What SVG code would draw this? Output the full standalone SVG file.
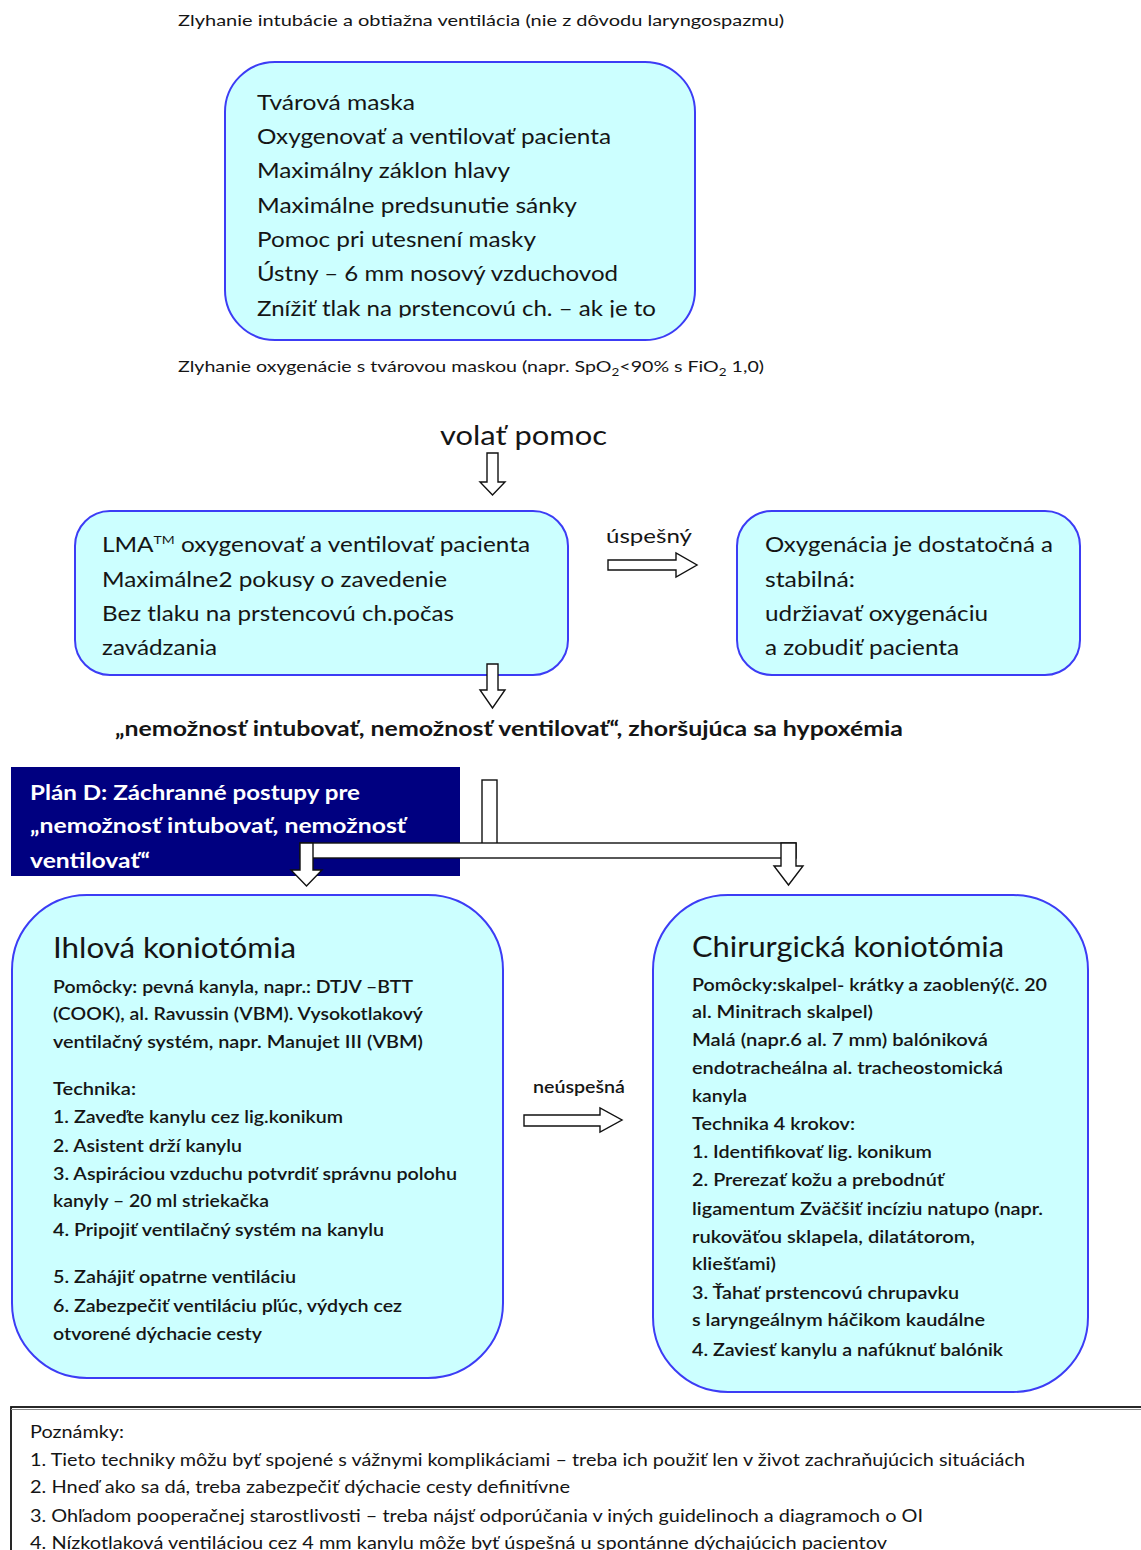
<svg xmlns="http://www.w3.org/2000/svg" width="1141" height="1550" viewBox="0 0 1141 1550">
  <style>
    text { font-family: "Lato", "Open Sans", "Liberation Sans", sans-serif; fill: #151515; }
    .box { fill: #ccffff; stroke: #3c3cf5; stroke-width: 2; }
    .cap { font-size: 16px; }
    .b1 { font-size: 21px; }
    .hd { font-size: 28px; }
    .sm { font-size: 17.5px; font-weight: 600; }
    .note { font-size: 17px; }
    .bold { font-weight: 700; }
    .white { fill: #ffffff; }
    .arrow { fill: #ffffff; stroke: #111; stroke-width: 1.4; stroke-linejoin: miter; }
  </style>
  <defs>
    <clipPath id="clipLast"><rect x="225" y="290" width="470" height="27.5"/></clipPath>
    <clipPath id="clipPlan"><rect x="11" y="767" width="449" height="101"/></clipPath>
  </defs>

  <rect width="1141" height="1550" fill="#ffffff"/>

  <!-- top caption -->
  <g id="caption-top">
    <text class="cap" x="178" y="26" textLength="606" lengthAdjust="spacingAndGlyphs">Zlyhanie intubácie a obtiažna ventilácia (nie z dôvodu laryngospazmu)</text>
  </g>

  <!-- face mask box -->
  <g id="face-mask">
    <rect class="box" x="225" y="62" width="470" height="278" rx="50" ry="50"/>
    <text class="b1" x="257" y="110" textLength="158" lengthAdjust="spacingAndGlyphs">Tvárová maska</text>
    <text class="b1" x="257" y="144" textLength="354" lengthAdjust="spacingAndGlyphs">Oxygenovať a ventilovať pacienta</text>
    <text class="b1" x="257" y="178" textLength="253" lengthAdjust="spacingAndGlyphs">Maximálny záklon hlavy</text>
    <text class="b1" x="257" y="213" textLength="320" lengthAdjust="spacingAndGlyphs">Maximálne predsunutie sánky</text>
    <text class="b1" x="257" y="247" textLength="279" lengthAdjust="spacingAndGlyphs">Pomoc pri utesnení masky</text>
    <text class="b1" x="257" y="281" textLength="361" lengthAdjust="spacingAndGlyphs">Ústny – 6 mm nosový vzduchovod</text>
    <text class="b1" x="257" y="316" textLength="399" lengthAdjust="spacingAndGlyphs" clip-path="url(#clipLast)">Znížiť tlak na prstencovú ch. – ak je to</text>
  </g>

  <!-- second caption -->
  <g id="caption-oxygen">
    <text class="cap" x="178" y="372" textLength="586" lengthAdjust="spacingAndGlyphs">Zlyhanie oxygenácie s tvárovou maskou (napr. SpO<tspan font-size="11" dy="4">2</tspan><tspan dy="-4">&lt;90% s FiO</tspan><tspan font-size="11" dy="4">2</tspan><tspan dy="-4"> 1,0)</tspan></text>
  </g>

  <g id="call-help">
    <text x="440" y="445" font-size="27" textLength="167" lengthAdjust="spacingAndGlyphs">volať pomoc</text>
  </g>

  <!-- LMA box -->
  <g id="lma">
    <rect class="box" x="75" y="511" width="493" height="164" rx="35" ry="35"/>
    <text class="b1" x="102" y="552" textLength="428" lengthAdjust="spacingAndGlyphs">LMA<tspan font-size="12" dy="-8">TM</tspan><tspan dy="8"> oxygenovať a ventilovať pacienta</tspan></text>
    <text class="b1" x="102" y="587" textLength="345" lengthAdjust="spacingAndGlyphs">Maximálne2 pokusy o zavedenie</text>
    <text class="b1" x="102" y="621" textLength="352" lengthAdjust="spacingAndGlyphs">Bez tlaku na prstencovú ch.počas</text>
    <text class="b1" x="102" y="655" textLength="115" lengthAdjust="spacingAndGlyphs">zavádzania</text>
  </g>

  <!-- success box -->
  <g id="stable">
    <rect class="box" x="737" y="511" width="343" height="164" rx="35" ry="35"/>
    <text class="b1" x="765" y="552" textLength="288" lengthAdjust="spacingAndGlyphs">Oxygenácia je dostatočná a</text>
    <text class="b1" x="765" y="587" textLength="90" lengthAdjust="spacingAndGlyphs">stabilná:</text>
    <text class="b1" x="765" y="621" textLength="223" lengthAdjust="spacingAndGlyphs">udržiavať oxygenáciu</text>
    <text class="b1" x="765" y="655" textLength="194" lengthAdjust="spacingAndGlyphs">a zobudiť pacienta</text>
  </g>

  <g id="cicv">
    <text class="bold" x="115" y="736" font-size="20" textLength="788" lengthAdjust="spacingAndGlyphs">„nemožnosť intubovať, nemožnosť ventilovať“, zhoršujúca sa hypoxémia</text>
  </g>

  <!-- plan D banner -->
  <g id="plan-d">
    <rect x="11" y="767" width="449" height="109" fill="#000080"/>
    <g clip-path="url(#clipPlan)">
      <text class="bold white" x="30" y="800" font-size="21" textLength="330" lengthAdjust="spacingAndGlyphs">Plán D: Záchranné postupy pre</text>
      <text class="bold white" x="30" y="833" font-size="21" textLength="376" lengthAdjust="spacingAndGlyphs">„nemožnosť intubovať, nemožnosť</text>
      <text class="bold white" x="30" y="868" font-size="21" textLength="120" lengthAdjust="spacingAndGlyphs">ventilovať“</text>
    </g>
  </g>

  <!-- needle cricothyroidotomy -->
  <g id="needle">
    <rect class="box" x="12" y="895" width="491" height="483" rx="75" ry="75"/>
    <text class="hd" x="53" y="958" textLength="243" lengthAdjust="spacingAndGlyphs">Ihlová koniotómia</text>
    <text class="sm" x="53" y="993" textLength="360" lengthAdjust="spacingAndGlyphs">Pomôcky: pevná kanyla, napr.: DTJV –BTT</text>
    <text class="sm" x="53" y="1020" textLength="370" lengthAdjust="spacingAndGlyphs">(COOK), al. Ravussin (VBM). Vysokotlakový</text>
    <text class="sm" x="53" y="1048" textLength="370" lengthAdjust="spacingAndGlyphs">ventilačný systém, napr. Manujet III (VBM)</text>
    <text class="sm" x="53" y="1095" textLength="83" lengthAdjust="spacingAndGlyphs">Technika:</text>
    <text class="sm" x="53" y="1123" textLength="290" lengthAdjust="spacingAndGlyphs">1. Zaveďte kanylu cez lig.konikum</text>
    <text class="sm" x="53" y="1152" textLength="189" lengthAdjust="spacingAndGlyphs">2. Asistent drží kanylu</text>
    <text class="sm" x="53" y="1180" textLength="404" lengthAdjust="spacingAndGlyphs">3. Aspiráciou vzduchu potvrdiť správnu polohu</text>
    <text class="sm" x="53" y="1207" textLength="216" lengthAdjust="spacingAndGlyphs">kanyly – 20 ml striekačka</text>
    <text class="sm" x="53" y="1236" textLength="331" lengthAdjust="spacingAndGlyphs">4. Pripojiť ventilačný systém na kanylu</text>
    <text class="sm" x="53" y="1283" textLength="243" lengthAdjust="spacingAndGlyphs">5. Zahájiť opatrne ventiláciu</text>
    <text class="sm" x="53" y="1312" textLength="349" lengthAdjust="spacingAndGlyphs">6. Zabezpečiť ventiláciu pľúc, výdych cez</text>
    <text class="sm" x="53" y="1340" textLength="209" lengthAdjust="spacingAndGlyphs">otvorené dýchacie cesty</text>
  </g>

  <!-- surgical cricothyroidotomy -->
  <g id="surgical">
    <rect class="box" x="653" y="895" width="435" height="497" rx="75" ry="75"/>
    <text class="hd" x="692" y="957" textLength="312" lengthAdjust="spacingAndGlyphs">Chirurgická koniotómia</text>
    <text class="sm" x="692" y="991" textLength="355" lengthAdjust="spacingAndGlyphs">Pomôcky:skalpel- krátky a zaoblený(č. 20</text>
    <text class="sm" x="692" y="1018" textLength="181" lengthAdjust="spacingAndGlyphs">al. Minitrach skalpel)</text>
    <text class="sm" x="692" y="1046" textLength="296" lengthAdjust="spacingAndGlyphs">Malá (napr.6 al. 7 mm) balóniková</text>
    <text class="sm" x="692" y="1074" textLength="311" lengthAdjust="spacingAndGlyphs">endotracheálna al. tracheostomická</text>
    <text class="sm" x="692" y="1102" textLength="55" lengthAdjust="spacingAndGlyphs">kanyla</text>
    <text class="sm" x="692" y="1130" textLength="163" lengthAdjust="spacingAndGlyphs">Technika 4 krokov:</text>
    <text class="sm" x="692" y="1158" textLength="240" lengthAdjust="spacingAndGlyphs">1. Identifikovať lig. konikum</text>
    <text class="sm" x="692" y="1186" textLength="252" lengthAdjust="spacingAndGlyphs">2. Prerezať kožu a prebodnúť</text>
    <text class="sm" x="692" y="1215" textLength="351" lengthAdjust="spacingAndGlyphs">ligamentum Zväčšiť incíziu natupo (napr.</text>
    <text class="sm" x="692" y="1243" textLength="283" lengthAdjust="spacingAndGlyphs">rukoväťou sklapela, dilatátorom,</text>
    <text class="sm" x="692" y="1270" textLength="84" lengthAdjust="spacingAndGlyphs">kliešťami)</text>
    <text class="sm" x="692" y="1299" textLength="267" lengthAdjust="spacingAndGlyphs">3. Ťahať prstencovú chrupavku</text>
    <text class="sm" x="692" y="1326" textLength="293" lengthAdjust="spacingAndGlyphs">s laryngeálnym háčikom kaudálne</text>
    <text class="sm" x="692" y="1356" textLength="311" lengthAdjust="spacingAndGlyphs">4. Zaviesť kanylu a nafúknuť balónik</text>
  </g>

  <!-- notes -->
  <g id="notes">
    <rect x="11" y="1407" width="1150" height="200" fill="#ffffff" stroke="#111" stroke-width="1.8"/>
    <line x1="11" y1="1409.5" x2="1141" y2="1409.5" stroke="#888" stroke-width="1"/>
    <text class="note" x="30" y="1438" textLength="94" lengthAdjust="spacingAndGlyphs">Poznámky:</text>
    <text class="note" x="30" y="1466" textLength="995" lengthAdjust="spacingAndGlyphs">1. Tieto techniky môžu byť spojené s vážnymi komplikáciami – treba ich použiť len v život zachraňujúcich situáciách</text>
    <text class="note" x="30" y="1493" textLength="540" lengthAdjust="spacingAndGlyphs">2. Hneď ako sa dá, treba zabezpečiť dýchacie cesty  definitívne</text>
    <text class="note" x="30" y="1522" textLength="893" lengthAdjust="spacingAndGlyphs">3. Ohľadom pooperačnej starostlivosti – treba nájsť odporúčania v iných guidelinoch a diagramoch o OI</text>
    <text class="note" x="30" y="1549" textLength="857" lengthAdjust="spacingAndGlyphs">4. Nízkotlaková  ventiláciou cez 4 mm kanylu môže byť úspešná u spontánne dýchajúcich pacientov</text>
  </g>

  <!-- connectors: hollow block arrows and their labels -->
  <g id="connectors">
    <polygon class="arrow" points="487,453 498,453 498,482 505,482 492.5,495 480,482 487,482"/>
    <polygon class="arrow" points="487,664 498,664 498,690 505,690 492.5,708 480,690 487,690"/>
    <text x="606" y="543" font-size="19" textLength="86" lengthAdjust="spacingAndGlyphs">úspešný</text>
    <polygon class="arrow" points="608,560 676,560 676,553 697,565 676,577 676,570 608,570"/>
    <rect class="arrow" x="482" y="780" width="15" height="70"/>
    <rect class="arrow" x="300" y="843" width="496" height="15"/>
    <polygon class="arrow" points="300,843 313,843 313,870 322,870 306.5,886 291,870 300,870"/>
    <polygon class="arrow" points="781,843 796,843 796,866 803,866 788.5,885 774,866 781,866"/>
    <text x="533" y="1093" font-size="17" font-weight="600" textLength="92" lengthAdjust="spacingAndGlyphs">neúspešná</text>
    <polygon class="arrow" points="524,1115 600,1115 600,1108 622,1120 600,1132 600,1126 524,1126"/>
  </g>
</svg>
